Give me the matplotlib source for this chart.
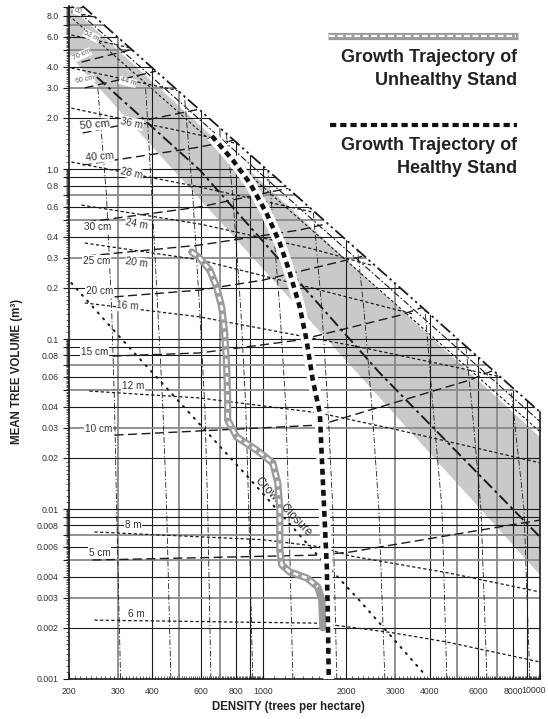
import numpy as np
import matplotlib
matplotlib.use("Agg")
import matplotlib.pyplot as plt
from matplotlib.patches import Polygon
from matplotlib.ticker import FixedLocator, NullFormatter

plt.rcParams['font.family'] = ['Liberation Sans', 'DejaVu Sans']

# ------------------------------------------------------------------ data
X_LIM = [200, 10000]
Y_LIM = [0.001, 9.1]

X_TICKS = [200, 300, 400, 500, 600, 700, 800, 900, 1000, 2000, 3000, 4000,
           5000, 6000, 7000, 8000, 9000, 10000]
X_TICKLABELS = ["200", "300", "400", "", "600", "", "800", "", "1000", "2000",
                "3000", "4000", "", "6000", "", "8000", "", ""]
X_LAST_LABEL = "10000"
Y_TICKS = [0.001, 0.002, 0.003, 0.004, 0.005, 0.006, 0.007, 0.008, 0.009,
           0.01, 0.02, 0.03, 0.04, 0.05, 0.06, 0.07, 0.08, 0.09,
           0.1, 0.2, 0.3, 0.4, 0.5, 0.6, 0.7, 0.8, 0.9,
           1.0, 2.0, 3.0, 4.0, 5.0, 6.0, 7.0, 8.0, 9.0]
Y_TICKLABELS = ["0.001", "0.002", "0.003", "0.004", "", "0.006", "", "0.008", "",
                "0.01", "0.02", "0.03", "0.04", "", "0.06", "", "0.08", "",
                "0.1", "0.2", "0.3", "0.4", "", "0.6", "", "0.8", "",
                "1.0", "2.0", "3.0", "4.0", "", "6.0", "", "8.0", ""]

# maximum density (self-thinning) boundary
BOUNDARY_X = [224, 10000]
BOUNDARY_Y = [9.1, 0.0372]
# lines running just below the boundary
NEAR_X = [200, 10000]
NEAR1_Y = [9.4, 0.0327]
NEAR2_Y = [8.0, 0.0285]

# shaded zone
BAND_X = [200, 10000]
BAND_UPPER = [9.2, 0.0265]
BAND_LOWER = [4.7, 0.0041]

# heavy dash-dot line inside the zone
MID_X = [252, 592, 2645, 10000]
MID_Y = [3.48, 0.987, 0.063, 0.00685]

# dominant height isolines
H_LABELS = ["6 m", "8 m", "12 m", "16 m", "20 m", "24 m", "28 m", "36 m", "44 m", "52 m", "60"]
H_X = [
    [247, 1606, 2946, 4616, 10000],
    [247, 1000, 1606, 2061, 4700, 10000],
    [237, 592, 1606, 3125, 10000],
    [228, 592, 2240, 10000],
    [228, 592, 1500, 3500],
    [222, 592, 1500, 2500],
    [204, 592, 1500],
    [204, 592, 1000],
    [204, 592],
    [204, 391, 600],
    [204, 300],
]
H_Y = [
    [0.00222, 0.00213, 0.00187, 0.00165, 0.00126],
    [0.00733, 0.0066, 0.006, 0.0053, 0.0042, 0.00325],
    [0.0494, 0.045, 0.0367, 0.029, 0.0187],
    [0.163, 0.135, 0.0897, 0.0536],
    [0.367, 0.292, 0.2, 0.14],
    [0.614, 0.475, 0.34, 0.27],
    [1.1, 0.784, 0.56],
    [2.28, 1.585, 1.3],
    [3.93, 2.72],
    [6.14, 4.88, 4.0],
    [8.4, 7.33],
]
H_LABEL_X = [351, 340, 340, 326, 351, 351, 337, 337, 326, 241, 215]
H_LABEL_Y = [0.00241, 0.00805, 0.0529, 0.156, 0.280, 0.475, 0.947, 1.864, 3.25, 6.06, 8.50]
H_LABEL_ROT = [0, 0, 0, -4, -8, -10, -12, -12, -15, -25, -20]
H_LABEL_SIZE = [7.2, 7.2, 7.2, 7.2, 7.2, 7.2, 7.2, 7.2, 5.3, 5.3, 5.0]

# quadratic mean diameter isolines
D_LABELS = ["5 cm", "10 cm", "15 cm", "20 cm", "25 cm", "30 cm", "40 cm", "50 cm", "60 cm", "70 cm"]
D_X = [
    [243, 1606, 2061, 10000],
    [292, 1606, 2645, 5589, 10000],
    [287, 592, 1360, 3125, 6000],
    [292, 592, 1000, 2240, 4000],
    [232, 592, 1360, 2500],
    [232, 592, 1152, 2000],
    [224, 592, 1000],
    [224, 592, 900],
    [228, 462, 700],
    [222, 391, 600],
]
D_Y = [
    [0.00501, 0.00536, 0.00558, 0.00861],
    [0.0272, 0.0312, 0.0398, 0.0574, 0.085],
    [0.0794, 0.0828, 0.0987, 0.138, 0.2],
    [0.177, 0.194, 0.222, 0.304, 0.4],
    [0.308, 0.357, 0.438, 0.55],
    [0.488, 0.598, 0.753, 0.9],
    [1.056, 1.347, 1.6],
    [1.63, 2.25, 2.6],
    [3.0, 3.93, 4.6],
    [4.26, 5.36, 6.2],
]
D_LABEL_X = [258, 256, 247, 258, 251, 254, 258, 247, 228, 222]
D_LABEL_Y = [0.00551, 0.0296, 0.0839, 0.1916, 0.288, 0.456, 1.176, 1.815, 3.34, 4.68]
D_LABEL_ROT = [0, 0, 0, 0, 0, 0, 5, 5, 12, 25]
D_LABEL_SIZE = [7.2, 7.2, 7.2, 7.2, 7.2, 7.2, 7.5, 8.0, 5.0, 5.0]

# near-vertical isolines (x read at fixed volume levels)
V_LEVELS = [0.001, 0.01, 0.04, 0.15, 0.7, 3.0]
V_X = [
    [307, 297, 292, 285, 273, 254],
    [466, 450, 436, 418, 398, 378],
    [650, 633, 618, 592, 559, 519],
    [920, 890, 868, 833, 779, 711],
    [1284, 1241, 1211, 1152, 1069, 959],
    [1850, 1789, 1717, 1633, 1503, 1300],
    [2757, 2623, 2475, 2316, 2096, 1800],
    [4612, 4429, 4110, 3845, 3400, 2900],
    [6436, 6124, 5683, 5229, 4600, 3900],
    [9193, 8754, 7990, 7293, 6400, 5400],
]

# crown closure line
CROWN_X = [204, 312, 532, 975, 1515, 2277, 3845]
CROWN_Y = [0.2135, 0.0986, 0.0382, 0.01294, 0.00574, 0.0028, 0.00106]
CROWN_LABEL = "Crown Closure"
CROWN_LABEL_XY = (1191, 0.0104)

# growth trajectories
HEALTHY_X = [655, 779, 898, 1031, 1152, 1252, 1360, 1438, 1515, 1606, 1647, 1702, 1716, 1730]
HEALTHY_Y = [1.564, 1.13, 0.827, 0.551, 0.367, 0.245, 0.154, 0.0986, 0.0574, 0.0367,
             0.0148, 0.00456, 0.00245, 0.001]
UNHEALTHY_X = [554, 592, 644, 682, 711, 729, 741, 747, 747, 806, 951, 1087, 1133,
               1152, 1152, 1171, 1252, 1442, 1579, 1633, 1647]
UNHEALTHY_Y = [0.325, 0.2996, 0.2546, 0.202, 0.154, 0.108, 0.0685, 0.0438, 0.0334,
               0.0265, 0.0222, 0.01865, 0.01422, 0.00987, 0.00574, 0.00469, 0.00426,
               0.00393, 0.00348, 0.00292, 0.0020]

LEGEND_UNHEALTHY = ["Growth Trajectory of", "Unhealthy Stand"]
LEGEND_HEALTHY = ["Growth Trajectory of", "Healthy Stand"]
X_LABEL = "DENSITY (trees per hectare)"
Y_LABEL = "MEAN TREE VOLUME (m³)"

# ------------------------------------------------------------------ figure
W, H = 548, 719
fig = plt.figure(figsize=(W / 100, H / 100), dpi=100)
ax = fig.add_axes([69 / W, 1 - 679 / H, 471 / W, 673 / H])
ax.set_xscale('log')
ax.set_yscale('log')
ax.set_xlim(*X_LIM)
ax.set_ylim(*Y_LIM)

INK = '#1c1c1c'

clip = Polygon(np.column_stack([
    [X_LIM[0], X_LIM[1], BOUNDARY_X[1], BOUNDARY_X[0], X_LIM[0]],
    [Y_LIM[0], Y_LIM[0], BOUNDARY_Y[1], BOUNDARY_Y[0], Y_LIM[1]]]),
    closed=True, transform=ax.transData, facecolor='none', edgecolor='none')


def clipped(artists):
    for a in (artists if isinstance(artists, (list, tuple)) else [artists]):
        a.set_clip_path(clip)


# shaded zone
band = ax.fill_between(BAND_X, BAND_LOWER, BAND_UPPER, color='#c9c9c9', lw=0, zorder=1)
clipped(band)


def mant(v):
    return int(round(v / 10 ** np.floor(np.log10(v) + 1e-9)))


# grid
for v in X_TICKS[1:-1]:
    gray = mant(v) in (3, 5, 7)
    clipped(ax.axvline(v, color='#8a8a8a' if gray else INK, lw=1.3 if gray else 0.8, zorder=2))
for v in Y_TICKS[1:]:
    if v >= Y_LIM[1]:
        continue
    gray = mant(v) in (3, 5, 7)
    clipped(ax.axhline(v, color='#8a8a8a' if gray else INK, lw=1.3 if gray else 0.8, zorder=2))

# near-vertical isolines
for xs in V_X:
    clipped(ax.plot(xs, V_LEVELS[:len(xs)], color=INK, lw=0.6,
                    ls=(0, (7, 2.5, 1.5, 2.5)), zorder=3))

# height isolines (short dash)
for xs, ys in zip(H_X, H_Y):
    clipped(ax.plot(xs, ys, color=INK, lw=0.9, ls=(0, (2.6, 1.9)), zorder=3))

# diameter isolines (long dash)
for xs, ys in zip(D_X, D_Y):
    clipped(ax.plot(xs, ys, color=INK, lw=1.0, ls=(0, (6.5, 3.2)), zorder=3))

# crown closure dotted
clipped(ax.plot(CROWN_X, CROWN_Y, color=INK, lw=1.5, ls=(0, (0.6, 3.2)),
                dash_capstyle='round', zorder=3))

# near-boundary lines
clipped(ax.plot(NEAR_X, NEAR1_Y, color=INK, lw=0.8, ls=(0, (6, 2, 1.5, 2)), zorder=3))
clipped(ax.plot(NEAR_X, NEAR2_Y, color=INK, lw=0.8, ls=(0, (2.5, 2)), zorder=3))
# heavy dash-dot through the zone
clipped(ax.plot(MID_X, MID_Y, color=INK, lw=1.4, ls=(0, (6, 2, 1.5, 2)), zorder=3))
# boundary
ax.plot(BOUNDARY_X, BOUNDARY_Y, color=INK, lw=1.3, ls=(0, (7, 2, 1.3, 2, 1.3, 2)),
        zorder=4, clip_on=False)

# labels
bb = dict(facecolor='white', edgecolor='none', pad=0.4)
for s, x, y, r, fs in zip(D_LABELS, D_LABEL_X, D_LABEL_Y, D_LABEL_ROT, D_LABEL_SIZE):
    ax.text(x, y, s, fontsize=fs, rotation=r, ha='center', va='center',
            color='#333333' if fs > 6 else '#555555', bbox=bb, zorder=5)
for s, x, y, r, fs in zip(H_LABELS, H_LABEL_X, H_LABEL_Y, H_LABEL_ROT, H_LABEL_SIZE):
    ax.text(x, y, s, fontsize=fs, rotation=r, ha='center', va='center',
            color='#333333' if fs > 6 else '#555555', bbox=bb, zorder=5)
ax.text(CROWN_LABEL_XY[0], CROWN_LABEL_XY[1], CROWN_LABEL, fontsize=8.3,
        rotation=-46.5, ha='center', va='center', color='#333333', zorder=5,
        rotation_mode='anchor')

# trajectories
ax.plot(HEALTHY_X, HEALTHY_Y, color='white', lw=8, solid_capstyle='butt', zorder=6)
ax.plot(HEALTHY_X, HEALTHY_Y, color='#111111', lw=3.3, ls=(0, (1.3, 1.0)), zorder=7)
ax.plot(UNHEALTHY_X, UNHEALTHY_Y, color='#9b9b9b', lw=5.2, solid_joinstyle='round',
        solid_capstyle='round', zorder=6)
ax.plot(UNHEALTHY_X[:-2], UNHEALTHY_Y[:-2], color='white', lw=1.9, ls=(0, (2.0, 1.4)),
        zorder=7)

# legend
T = ax.transAxes
ax.plot([0.550, 0.953], [0.9554, 0.9554], transform=T, color='#9b9b9b', lw=5.2,
        solid_capstyle='butt', clip_on=False, zorder=8)
ax.plot([0.553, 0.950], [0.9554, 0.9554], transform=T, color='white', lw=1.6,
        ls=(0, (2.6, 1.2)), clip_on=False, zorder=9)
ax.plot([0.554, 0.951], [0.8232, 0.8232], transform=T, color='#111111', lw=3.0,
        ls=(0, (1.5, 0.95)), clip_on=False, zorder=8)
for txt, yy in zip(LEGEND_UNHEALTHY + LEGEND_HEALTHY, [0.9242, 0.890, 0.792, 0.758]):
    ax.text(0.951, yy, txt, transform=T, ha='right', va='center', fontsize=13,
            fontweight='bold', color='#222222', zorder=8)

# axes styling
ax.spines['top'].set_visible(False)
ax.spines['right'].set_bounds(Y_LIM[0], BOUNDARY_Y[1])
for side in ('left', 'bottom', 'right'):
    ax.spines[side].set_linewidth(1.2)
    ax.spines[side].set_color(INK)

ax.set_xticks(X_TICKS, labels=X_TICKLABELS)
ax.set_yticks([t for t in Y_TICKS if t < Y_LIM[1]],
              labels=[l for t, l in zip(Y_TICKS, Y_TICKLABELS) if t < Y_LIM[1]])


def minors(lo, hi):
    out = []
    for k in range(int(np.floor(np.log10(lo))), int(np.ceil(np.log10(hi))) + 1):
        for i in range(11, 100):
            if i % 10 == 0:
                continue
            v = i / 10 * 10 ** k
            if lo < v < hi:
                out.append(v)
    return out


ax.xaxis.set_minor_locator(FixedLocator(minors(*X_LIM)))
ax.yaxis.set_minor_locator(FixedLocator(minors(*Y_LIM)))
ax.xaxis.set_minor_formatter(NullFormatter())
ax.yaxis.set_minor_formatter(NullFormatter())
ax.tick_params(axis='y', which='major', direction='out', length=4.3, width=0.8,
               labelsize=6.3, pad=3, colors=INK, labelcolor='#333333')
ax.tick_params(axis='y', which='minor', direction='out', length=2.2, width=0.5, colors=INK)
ax.tick_params(axis='x', which='major', direction='in', length=4, width=0.8,
               labelsize=6.3, pad=6, colors=INK, labelcolor='#333333')
ax.tick_params(axis='x', which='minor', direction='in', length=2.5, width=0.5, colors=INK)
ax.tick_params(right=False, top=False, which='both')

# last density label sits at the very edge of the figure; nudge it inside
ax.annotate(X_LAST_LABEL, xy=(X_LIM[1], 0), xycoords=('data', 'axes fraction'),
            xytext=(-4.6, -8.6), textcoords='offset points', ha='center', va='center',
            fontsize=6.3, color='#333333', annotation_clip=False)

fig.text(288 / W, 1 - 707 / H, X_LABEL, ha='center', va='center', fontsize=8.3,
         fontweight='bold', color='#222222')
fig.text(17.5 / W, 1 - 371 / H, Y_LABEL, ha='center', va='center', fontsize=8.3,
         fontweight='bold', color='#222222', rotation=90)

fig.savefig('out.png', dpi=100)
